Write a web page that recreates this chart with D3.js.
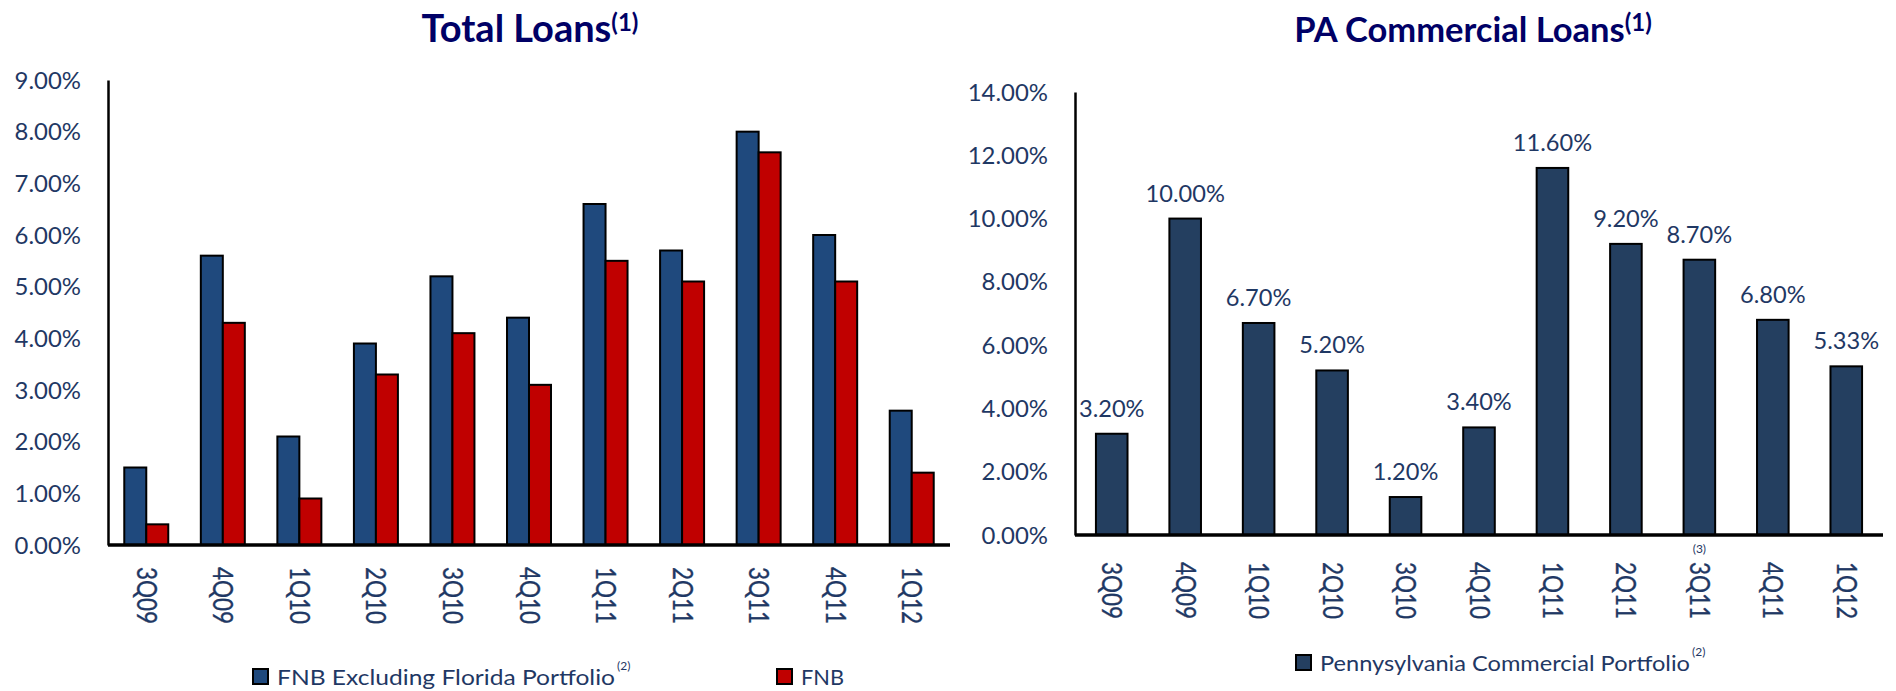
<!DOCTYPE html>
<html>
<head>
<meta charset="utf-8">
<script src="https://cdn.jsdelivr.net/npm/d3@7"></script>
<style>
  body { margin: 0; background: #fff; }
  svg { display: block; }
</style>
</head>
<body>
<script>
// data
const quarters = ["3Q09", "4Q09", "1Q10", "2Q10", "3Q10", "4Q10", "1Q11", "2Q11", "3Q11", "4Q11", "1Q12"];
const fnbExFlorida = [1.5, 5.6, 2.1, 3.9, 5.2, 4.4, 6.6, 5.7, 8.0, 6.0, 2.6];
const fnb = [0.4, 4.3, 0.9, 3.3, 4.1, 3.1, 5.5, 5.1, 7.6, 5.1, 1.4];
const paCommercial = [3.2, 10.0, 6.7, 5.2, 1.2, 3.4, 11.6, 9.2, 8.7, 6.8, 5.33];
const leftTicks = [0, 1, 2, 3, 4, 5, 6, 7, 8, 9];
const rightTicks = [0, 2, 4, 6, 8, 10, 12, 14];
const seriesNames = ["FNB Excluding Florida Portfolio", "FNB"];

let width = 1896;
let height = 691;
let navy = "#1f3864";
let font = "Lato, 'Open Sans', sans-serif";

let svg = d3.select("body")
    .append("svg")
    .attr("width", width)
    .attr("height", height)
    .style("font-family", font);

let pct = d => d.toFixed(2) + "%";

// ---------- left chart: Total Loans ----------
let xL = d3.scaleBand().domain(quarters).range([108, 950]);
let x1 = d3.scaleBand().domain(seriesNames).range([0, xL.bandwidth()]).paddingOuter(0.74);
let yL = d3.scaleLinear().domain([0, 9]).range([545, 80]);
let colorL = d3.scaleOrdinal().domain(seriesNames).range(["#1f497d", "#c00000"]);

let rowsL = quarters.map((q, i) => ({ q: q, vals: [fnbExFlorida[i], fnb[i]] }));

let groups = svg.append("g").selectAll("g")
    .data(rowsL)
    .join("g")
    .attr("transform", d => `translate(${xL(d.q)},0)`);
groups.selectAll("rect")
    .data(d => d.vals.map((v, k) => ({ s: seriesNames[k], v: v })))
    .join("rect")
    .attr("x", d => x1(d.s))
    .attr("y", d => yL(d.v))
    .attr("width", x1.bandwidth())
    .attr("height", d => yL(0) - yL(d.v))
    .attr("fill", d => colorL(d.s))
    .attr("stroke", "#000")
    .attr("stroke-width", 2);

// ---------- right chart: PA Commercial Loans ----------
let xR = d3.scaleBand().domain(quarters).range([1075, 1883]).paddingInner(0.57).paddingOuter(0.285);
let yR = d3.scaleLinear().domain([0, 14]).range([535, 92]);

svg.append("g").selectAll("rect")
    .data(paCommercial)
    .join("rect")
    .attr("x", (d, i) => xR(quarters[i]))
    .attr("y", d => yR(d))
    .attr("width", xR.bandwidth())
    .attr("height", d => yR(0) - yR(d))
    .attr("fill", "#243f60")
    .attr("stroke", "#000")
    .attr("stroke-width", 2);

// value labels
svg.append("g").selectAll("text")
    .data(paCommercial)
    .join("text")
    .attr("transform", (d, i) => `translate(${xR(quarters[i]) + xR.bandwidth() / 2},${yR(d) - 17}) scale(1.05,1)`)
    .attr("text-anchor", "middle")
    .attr("fill", navy)
    .style("font-size", "22.5px")
    .text(pct);

// ---------- axes ----------
function yAxis(scale, ticks, x) {
    let g = svg.append("g")
        .attr("transform", `translate(${x},0)`)
        .call(d3.axisLeft(scale).tickValues(ticks).tickSize(0).tickFormat(pct));
    g.select(".domain").attr("stroke", "#000").attr("stroke-width", 2.5);
    g.selectAll("text")
        .attr("x", null).attr("dy", "0.35em")
        .attr("transform", "translate(-27,0) scale(1.04,1)")
        .attr("fill", navy)
        .style("font-size", "23px")
        .style("font-family", font);
}
function xAxis(scale, y, off) {
    let g = svg.append("g")
        .attr("transform", `translate(0,${y})`)
        .call(d3.axisBottom(scale).tickSize(0));
    g.select(".domain").attr("d", `M${scale.range()[0]},0H${scale.range()[1]}`)
        .attr("stroke", "#000").attr("stroke-width", 3.5);
    g.selectAll("text")
        .attr("y", null).attr("dy", "0.35em")
        .attr("text-anchor", "start")
        .attr("transform", `translate(0,${off}) scale(1.2,1) rotate(90)`)
        .attr("fill", navy)
        .attr("stroke", navy)
        .attr("stroke-width", 0.3)
        .style("font-size", "22.5px")
        .style("font-family", font);
}
yAxis(yL, leftTicks, 108);
yAxis(yR, rightTicks, 1075);
xAxis(xL, yL(0), 22);
xAxis(xR, yR(0), 27);

// footnote mark over 3Q11 on the right chart
svg.append("text")
    .attr("x", xR("3Q11") + xR.bandwidth() / 2)
    .attr("y", 553)
    .attr("text-anchor", "middle")
    .attr("fill", navy)
    .style("font-size", "12px")
    .text("(3)");

// ---------- titles ----------
function title(txt, cx, size) {
    let t = svg.append("text")
        .attr("x", cx).attr("y", 42)
        .attr("text-anchor", "middle")
        .attr("fill", "#000066")
        .style("font-size", size + "px")
        .style("font-weight", "bold");
    t.append("tspan").text(txt);
    t.append("tspan").attr("dy", -11).style("font-size", "24px").text("(1)");
}
title("Total Loans", 530, 38);
title("PA Commercial Loans", 1473, 34.5);

// ---------- legends ----------
function legendItem(x, y, color, label, len, sup) {
    svg.append("rect")
        .attr("x", x).attr("y", y - 15)
        .attr("width", 15).attr("height", 15)
        .attr("fill", color).attr("stroke", "#000").attr("stroke-width", 2);
    svg.append("text")
        .attr("x", x + 24).attr("y", y + 1)
        .attr("fill", navy)
        .attr("textLength", len)
        .attr("lengthAdjust", "spacingAndGlyphs")
        .style("font-size", "22px")
        .text(label);
    if (sup) {
        svg.append("text")
            .attr("x", x + 26 + len).attr("y", y - 14)
            .attr("fill", navy)
            .style("font-size", "12px")
            .text("(2)");
    }
}
legendItem(253, 684, colorL(seriesNames[0]), seriesNames[0], 338, true);
legendItem(777, 684, colorL(seriesNames[1]), seriesNames[1], 43, false);
legendItem(1296, 670, "#243f60", "Pennysylvania Commercial Portfolio", 370, true);
</script>
</body>
</html>
